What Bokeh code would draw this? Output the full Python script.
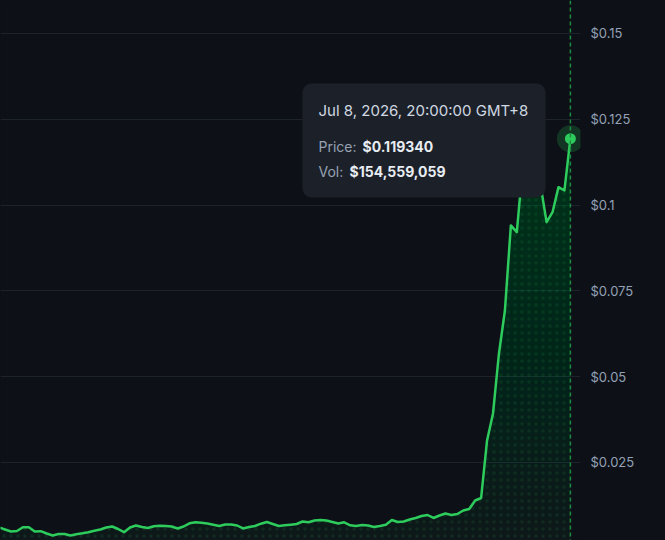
import numpy as np
import pandas as pd
from bokeh.plotting import figure
from bokeh.models import Range1d, FixedTicker, Span, Label, BoxAnnotation, ColumnDataSource
from bokeh.embed import file_html
from bokeh.resources import INLINE

# ---------------- data ----------------
end_time = pd.Timestamp("2026-07-08 20:00:00")
prices = [
    0.00606, 0.00548, 0.00490, 0.00504, 0.00612, 0.00615, 0.00490, 0.00498, 0.00431, 0.00373,
    0.00417, 0.00417, 0.00373, 0.00411, 0.00437, 0.00469, 0.00513, 0.00548, 0.00606, 0.00635,
    0.00562, 0.00469, 0.00606, 0.00664, 0.00621, 0.00592, 0.00641, 0.00656, 0.00650, 0.00635,
    0.00577, 0.00635, 0.00728, 0.00760, 0.00743, 0.00723, 0.00685, 0.00650, 0.00693, 0.00693,
    0.00664, 0.00577, 0.00621, 0.00650, 0.00717, 0.00766, 0.00708, 0.00650, 0.00670, 0.00688,
    0.00708, 0.00781, 0.00760, 0.00810, 0.00825, 0.00810, 0.00766, 0.00723, 0.00758, 0.00670,
    0.00647, 0.00679, 0.00664, 0.00621, 0.00650, 0.00688, 0.00825, 0.00766, 0.00781, 0.00839,
    0.00883, 0.00941, 0.00970, 0.00883, 0.00956, 0.01014, 0.00970, 0.00999, 0.01101, 0.01145,
    0.01393, 0.01466, 0.03141, 0.03928, 0.05676, 0.06929, 0.09406, 0.09210, 0.11154, 0.11591,
    0.11154, 0.10571, 0.09502, 0.09793, 0.10522, 0.10425, 0.11934,
]
times = pd.date_range(end=end_time, periods=len(prices), freq="h")

tooltip_date = "Jul 8, 2026, 20:00:00 GMT+8"
tooltip_price = "$0.119340"
tooltip_vol = "$154,559,059"

y_ticks = [0.025, 0.05, 0.075, 0.1, 0.125, 0.15]
y_tick_labels = ["$0.025", "$0.05", "$0.075", "$0.1", "$0.125", "$0.15"]

# ---------------- style ----------------
BG = "#0d1117"
GREEN = "#2dcc5c"
GRID = "#1d232b"
AXIS_TXT = "#93a0b5"
FONT = "Inter"

price_arr = np.array(prices)
src = ColumnDataSource(dict(t=times, p=price_arr))

p = figure(
    width=665, height=540,
    x_axis_type="datetime", x_axis_location=None, y_axis_location="right",
    toolbar_location=None, output_backend="svg",
    x_range=Range1d(
        (times[0] + pd.Timedelta(hours=0.24)).to_pydatetime(),
        (times[-1] + pd.Timedelta(hours=1.7)).to_pydatetime(),
    ),
    y_range=Range1d(0.00227, 0.1596),
    min_border_left=0, min_border_top=0, min_border_bottom=0, min_border_right=85,
)
p.background_fill_color = BG
p.border_fill_color = BG
p.outline_line_color = None

# axis
ax = p.yaxis[0]
ax.ticker = FixedTicker(ticks=y_ticks)
ax.major_label_overrides = {t: l for t, l in zip(y_ticks, y_tick_labels)}
ax.axis_line_color = None
ax.major_tick_line_color = None
ax.minor_tick_line_color = None
ax.major_tick_out = 0
ax.major_tick_in = 0
ax.major_label_standoff = 10
ax.major_label_text_color = AXIS_TXT
ax.major_label_text_font = FONT
ax.major_label_text_font_size = "13px"

p.xgrid.grid_line_color = None
p.ygrid.ticker = FixedTicker(ticks=y_ticks)
p.ygrid.grid_line_color = GRID
p.ygrid.grid_line_width = 1

# gradient-like area fill (stacked translucent layers)
p.varea(x="t", y1=0, y2="p", source=src, fill_color=GREEN, fill_alpha=0.035)
n_layers = 30
for k in range(n_layers):
    a = 0.004 * (k + 1)
    p.varea(x=times, y1=np.minimum(price_arr, a), y2=price_arr,
            fill_color=GREEN, fill_alpha=0.0085)
# faint dot texture
p.varea(x="t", y1=0, y2="p", source=src, fill_alpha=0,
        hatch_pattern="dot", hatch_color=GREEN, hatch_alpha=0.10,
        hatch_scale=7, hatch_weight=1)

# dashed crosshair
p.add_layout(Span(location=times[-1].to_pydatetime(), dimension="height",
                  line_color="#1c8a3f", line_dash="4 3", line_width=1.5))

# price line
p.line(x="t", y="p", source=src, line_color=GREEN, line_width=2.5, line_join="round")

# hovered point
p.scatter(x=[times[-1]], y=[prices[-1]], size=27, fill_color=GREEN, fill_alpha=0.2, line_color=None)
p.scatter(x=[times[-1]], y=[prices[-1]], size=11, fill_color=GREEN, line_color=None)

# tooltip box
p.add_layout(BoxAnnotation(left=302, right=545, bottom=343, top=457,
                           left_units="screen", right_units="screen",
                           bottom_units="screen", top_units="screen",
                           fill_color="#1c2129", fill_alpha=1.0, line_color=None,
                           border_radius=9))

def lab(x, y, text, color, size="14px", bold=False):
    p.add_layout(Label(x=x, y=y, x_units="screen", y_units="screen", text=text,
                       text_color=color, text_font=FONT, text_font_size=size,
                       text_font_style="bold" if bold else "normal",
                       text_baseline="middle", text_align="left"))

lab(318, 430, tooltip_date, "#d0d8e2", size="15px")
lab(318, 394, "Price:", "#97a3b4")
lab(362, 394, tooltip_price, "#e8edf3", bold=True)
lab(318, 369, "Vol:", "#97a3b4")
lab(349, 369, tooltip_vol, "#e8edf3", bold=True)

html = file_html(p, INLINE)
html = html.replace("</head>", "<style>html,body{background:#0d1117;margin:0;}</style></head>", 1)
open("out.html", "w").write(html)
